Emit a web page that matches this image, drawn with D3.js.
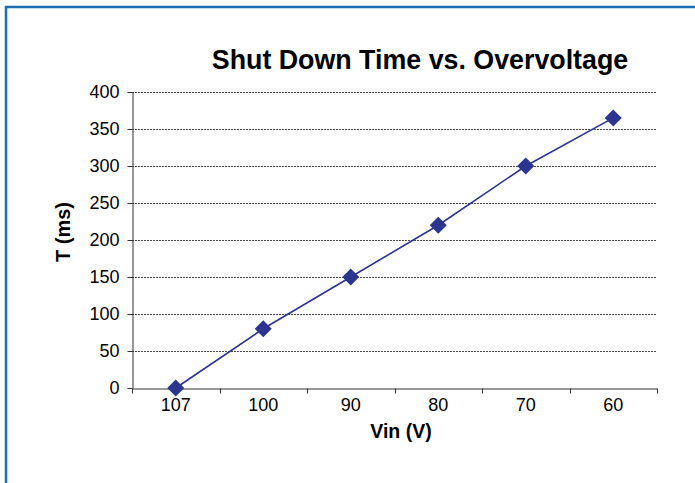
<!DOCTYPE html>
<html><head><meta charset="utf-8">
<script src="https://cdn.jsdelivr.net/npm/d3@7"></script>
<style>body{margin:0;background:#fff}svg{display:block}</style>
</head><body>
<svg id="c" width="695" height="483"></svg>
<script>
const categories = ["107","100","90","80","70","60"];
const values = [0, 80, 150, 220, 300, 365];
const yTicks = [0,50,100,150,200,250,300,350,400];
const title = "Shut Down Time vs. Overvoltage";
const xLabel = "Vin (V)";
const yLabel = "T (ms)";

const svg = d3.select("#c");
const W = 695, H = 483;
const m = {left:132, right:W-657, top:92, bottom:H-388};
const font = "Arial, 'Liberation Sans', sans-serif";

// frame
svg.append("path").attr("d", `M6,${H+5} L6,7 L${W+5},7`)
  .attr("fill","none").attr("stroke","#1a6fb0").attr("stroke-width",2.5);

const x = d3.scaleBand().domain(categories).range([m.left, W-m.right]);
const y = d3.scaleLinear().domain([0,400]).range([H-m.bottom, m.top]);

// gridlines
svg.append("g").selectAll("line").data(yTicks.filter(d=>d>0)).join("line")
  .attr("x1", m.left).attr("x2", W-m.right)
  .attr("y1", d=>y(d)+0.5).attr("y2", d=>y(d)+0.5)
  .attr("stroke","#4a4a4a").attr("stroke-width",1).attr("stroke-dasharray","2,1");

// y axis
const ya = svg.append("g").attr("transform",`translate(${m.left+0.5},0)`)
  .call(d3.axisLeft(y).tickValues(yTicks).tickSize(5).tickPadding(8).tickSizeOuter(0));
ya.select(".domain").attr("stroke","#333");
ya.selectAll(".tick line").attr("stroke","#333");
ya.selectAll("text").style("font-family",font).style("font-size","18px").attr("fill","#000");

// x axis
const xa = svg.append("g").attr("transform",`translate(0,${H-m.bottom+0.5})`)
  .call(d3.axisBottom(x).tickSize(0).tickPadding(10));
xa.select(".domain").attr("stroke","#333");
xa.selectAll("text").style("font-family",font).style("font-size","18px").attr("fill","#000");
// boundary ticks
const bounds = categories.map(c=>x(c)).concat([W-m.right]);
xa.selectAll(".bt").data(bounds).join("line").attr("class","bt")
  .attr("x1",d=>Math.round(d)+0.5).attr("x2",d=>Math.round(d)+0.5)
  .attr("y1",0).attr("y2",5).attr("stroke","#333");

// line
const line = d3.line().x((d,i)=>x(categories[i])+x.bandwidth()/2).y(d=>y(d));
svg.append("path").datum(values).attr("d",line)
  .attr("fill","none").attr("stroke","#2b3590").attr("stroke-width",1.6);

// markers
svg.append("g").selectAll("path").data(values).join("path")
  .attr("transform",(d,i)=>`translate(${x(categories[i])+x.bandwidth()/2},${y(d)})`)
  .attr("d","M0,-8.5 L8.5,0 L0,8.5 L-8.5,0 Z").attr("fill","#2b3590");

// title
svg.append("text").attr("x",420).attr("y",69).attr("text-anchor","middle")
  .attr("font-family",font).attr("font-weight","bold").attr("font-size",26.8).text(title);
svg.append("text").attr("x",401).attr("y",438).attr("text-anchor","middle")
  .attr("font-family",font).attr("font-weight","bold").attr("font-size",19.5).text(xLabel);
svg.append("text").attr("transform","translate(70,232) rotate(-90)").attr("text-anchor","middle")
  .attr("font-family",font).attr("font-weight","bold").attr("font-size",20).text(yLabel);
</script>
</body></html>
